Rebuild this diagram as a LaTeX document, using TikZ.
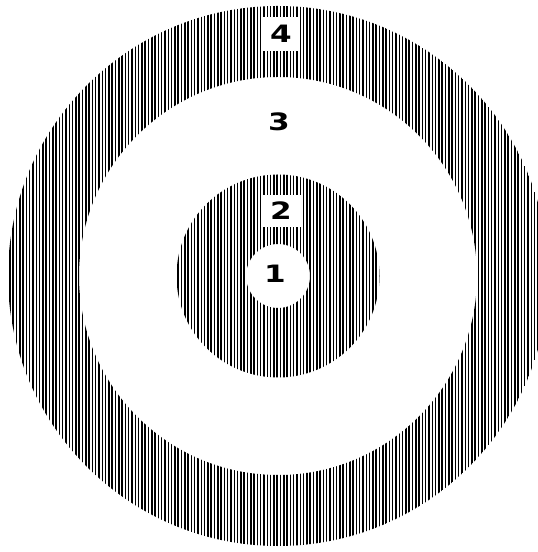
\documentclass[tikz,border=0pt]{standalone}
\usepackage{fontspec}
\newfontfamily\digitfont{DejaVu Sans}
\usetikzlibrary{positioning}
\tikzset{
  hatchline/.style={line width=1.55bp, black},
  numlabel/.style={font=\digitfont\bfseries\fontsize{24}{24}\selectfont, inner sep=0pt, xscale=1.3},
  numbox/.style={numlabel, fill=white, minimum width=29bp, minimum height=34bp}
}

\begin{document}
\begin{tikzpicture}[x=1bp, y=1bp]
  \useasboundingbox (0,0) rectangle (538,552);
  \coordinate (c) at (278,276);
  % hatched rings: outer band and inner disk
  \begin{scope}[even odd rule]
    \clip (c) circle (270bp) (c) circle (199bp) (c) circle (101.5bp) (c) circle (32bp);
    \foreach \x in {0,3.3,...,540} \draw[hatchline] (\x,0) -- (\x,552);
  \end{scope}
  \node[numbox] (four) at (281,518) {4};
  \node[numlabel] (three) at (279,430) {3};
  \node[numbox, minimum width=30bp, minimum height=32bp] (two) at (281,341) {2};
  \node[numlabel] (one) at (275,278) {1};
\end{tikzpicture}
\end{document}
